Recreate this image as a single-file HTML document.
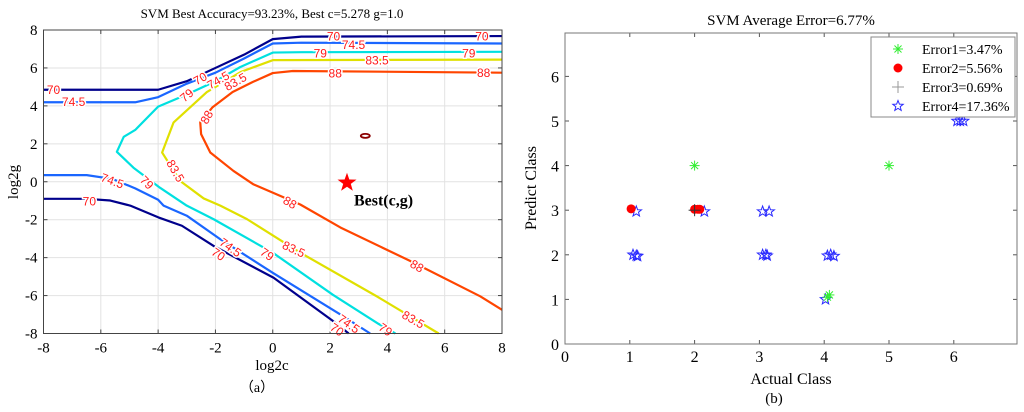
<!DOCTYPE html>
<html><head><meta charset="utf-8">
<style>
html,body{margin:0;padding:0;background:#fff;}
svg{display:block;font-family:"Liberation Serif",serif;}
</style></head>
<body>
<svg id="chart" width="1024" height="412" viewBox="0 0 1024 412" xmlns="http://www.w3.org/2000/svg">
<rect width="1024" height="412" fill="#fff"/>
<g id="left"></g>
<g id="right"></g>
</svg>
<script>
// ---------- Left chart data ----------
const levels = ["70","74.5","79","83.5","88"];
const levelColors = ["#00008c","#1a66ff","#00e0e0","#e0e000","#ff4500"];
const c70a = [[-8,4.85],[-4,4.85],[-3,5.3],[-2,6.0],[-1,6.7],[0,7.52],[1,7.65],[8,7.68]];
const c70b = [[-8,-0.9],[-6.5,-0.9],[-5.67,-0.99],[-4.97,-1.26],[-3.99,-1.88],[-3.17,-2.32],[-2.07,-3.38],[0.03,-5.06],[2.12,-7.36],[2.65,-8]];
const c745a = [[-8,4.19],[-4.8,4.19],[-4,4.46],[-3,5.17],[-2,5.75],[-1,6.5],[0,7.29],[1,7.33],[8,7.29]];
const c745b = [[-8,0.35],[-6.49,0.35],[-5.6,0.15],[-4.8,-0.35],[-4,-0.95],[-3.81,-1.26],[-3.0,-1.79],[-1.83,-3.03],[0,-4.8],[2.47,-7.1],[3.4,-8]];
const c79 = [[8,6.85],[1,6.83],[0,6.81],[-1.13,6.05],[-2,5.3],[-3,4.6],[-4,3.96],[-4.8,2.73],[-5.2,2.37],[-5.44,1.58],[-4.86,0.74],[-3.93,-0.32],[-3.0,-1.26],[-2.07,-1.97],[0,-3.74],[2.1,-5.96],[3.7,-7.5],[4.28,-8]];
const c835 = [[8,6.44],[0,6.41],[-1.1,5.8],[-2.3,4.73],[-3.46,3.13],[-3.86,1.54],[-3.23,0.04],[-2.41,-0.88],[-1.83,-1.26],[-0.9,-1.97],[0.96,-3.74],[3.64,-6.05],[4.8,-7.1],[5.79,-8]];
const c88 = [[8,5.75],[0.7,5.84],[0,5.73],[-0.7,5.26],[-1.4,4.73],[-2.1,3.93],[-2.53,3.13],[-2.5,2.51],[-2.18,1.54],[-1.37,0.57],[-0.67,-0.14],[0.15,-0.67],[0.96,-1.2],[2.36,-2.41],[4.8,-4.18],[7.24,-6.04],[8,-6.75]];
const contourSets = [[c70a,c70b],[c745a,c745b],[c79],[c835],[c88]];
const islandCenter = [3.23,2.42];
const bestPoint = [2.59,-0.05];
// labels: [text, c, g, angle]
const contourLabels = [
 ["70",2.12,7.65,0],["70",7.3,7.65,0],["74.5",2.82,7.2,0],["79",1.66,6.76,0],["79",6.84,6.76,0],
 ["83.5",3.64,6.4,0],["88",2.18,5.7,0],["88",7.36,5.73,0],["70",-7.65,4.85,0],["74.5",-6.95,4.2,0],
 ["70",-2.53,5.43,-30],["74.5",-1.9,5.35,-30],["83.5",-1.3,5.26,-30],["79",-3,4.55,-40],["88",-2.3,3.4,-60],
 ["83.5",-3.4,0.57,60],["79",-4.4,-0.05,45],["74.5",-5.6,0.04,20],["70",-6.4,-1.03,0],["88",0.6,-1.1,30],
 ["74.5",-1.48,-3.47,35],["70",-1.9,-3.83,35],["79",-0.2,-3.83,35],["83.5",0.73,-3.56,25],["88",5.03,-4.45,30],
 ["74.5",2.65,-7.5,35],["70",2.24,-7.8,35],["79",3.93,-7.8,35],["83.5",4.9,-7.27,30]
];
const leftTicks = [-8,-6,-4,-2,0,2,4,6,8];

// ---------- Right chart data ----------
const rightTicks = [0,1,2,3,4,5,6];
const err1 = [[2,4],[5,4],[4.05,1.05],[4.08,1.1]];
const err2 = [[1.02,3.03],[2.0,3.02],[2.05,3.02],[2.08,3.02]];
const err3 = [[2.0,3.0]];
const err4 = [[1.1,2.97],[2.15,2.97],[3.05,2.97],[3.15,2.97],[1.05,2],[1.1,1.98],[1.12,1.97],[3.05,2],[3.1,2],[3.12,1.98],[4.05,1.98],[4.1,2.0],[4.15,1.97],[4.02,1.0],[6.05,5.0],[6.1,5.0],[6.15,5.0]];
const legendLabels = ["Error1=3.47%","Error2=5.56%","Error3=0.69%","Error4=17.36%"];

const NS="http://www.w3.org/2000/svg";
function mk(tag,attrs,parent,text){const e=document.createElementNS(NS,tag);for(const k in attrs)e.setAttribute(k,attrs[k]);if(text!==undefined)e.textContent=text;parent.appendChild(e);return e;}

// ---------- Left chart ----------
const L=document.getElementById('left');


const LX0=43.5,LX1=502,LY0=30,LY1=333.5;
const lx=c=>LX0+(c+8)/16*(LX1-LX0);
const ly=g=>LY1-(g+8)/16*(LY1-LY0);
leftTicks.forEach(t=>{
  const gx=mk('line',{x1:lx(t),x2:lx(t),y1:LY0,y2:LY1,stroke:'#e2e2e2','stroke-width':1},L);
  
  
  const gy=mk('line',{x1:LX0,x2:LX1,y1:ly(t),y2:ly(t),stroke:'#e2e2e2','stroke-width':1},L);
  
  
  mk('line',{x1:lx(t),x2:lx(t),y1:LY1,y2:LY1-4,stroke:'#444'},L);
  mk('line',{x1:lx(t),x2:lx(t),y1:LY0,y2:LY0+4,stroke:'#444'},L);
  mk('line',{x1:LX0,x2:LX0+4,y1:ly(t),y2:ly(t),stroke:'#444'},L);
  mk('line',{x1:LX1,x2:LX1-4,y1:ly(t),y2:ly(t),stroke:'#444'},L);
  const xt=mk('text',{x:lx(t),y:LY1+19,'text-anchor':'middle','font-size':15},L,String(t));
  
  
  const yt=mk('text',{x:LX0-6,y:ly(t)+5,'text-anchor':'end','font-size':15},L,String(t));
  
  
});
contourSets.forEach((set,i)=>{
  set.forEach(pts=>{
    const p=mk('polyline',{points:pts.map(q=>lx(q[0])+','+ly(q[1])).join(' '),fill:'none',stroke:levelColors[i],'stroke-width':2.2,'stroke-linejoin':'round'},L);
    
    
  });
});
const isl=mk('ellipse',{cx:lx(islandCenter[0]),cy:ly(islandCenter[1]),rx:4.5,ry:2,fill:'none',stroke:'#8b0000','stroke-width':1.8},L);


contourLabels.forEach(l=>{
  const x=lx(l[1]),y=ly(l[2]);
  const t=mk('text',{x:x,y:y+4,'text-anchor':'middle','font-size':12,'font-family':'Liberation Sans, sans-serif',fill:'#ff1a1a',stroke:'#fff','stroke-width':3,'paint-order':'stroke',transform:'rotate('+l[3]+' '+x+' '+y+')'},L,l[0]);
  
  
});
(function(){
  const cx=lx(bestPoint[0]),cy=ly(bestPoint[1]),R=10,r=4;let pts=[];
  for(let k=0;k<10;k++){const a=-Math.PI/2+k*Math.PI/5,rr=k%2?r:R;pts.push((cx+rr*Math.cos(a)).toFixed(1)+','+(cy+rr*Math.sin(a)).toFixed(1));}
  const s=mk('polygon',{points:pts.join(' '),fill:'#ff0000'},L);
  
  
  const bt=mk('text',{x:cx+7,y:cy+23,'font-size':16,'font-weight':'bold'},L,'Best(c,g)');
  
  
})();
const lf=mk('rect',{x:LX0,y:LY0,width:LX1-LX0,height:LY1-LY0,fill:'none',stroke:'#444','stroke-width':1},L);


const lt=mk('text',{x:272,y:18,'text-anchor':'middle','font-size':13},L,'SVM Best Accuracy=93.23%, Best c=5.278  g=1.0');


const lxl=mk('text',{x:272,y:370,'text-anchor':'middle','font-size':15},L,'log2c');


const lyl=mk('text',{x:18,y:182,'text-anchor':'middle','font-size':15,transform:'rotate(-90 18 182)'},L,'log2g');


const la=mk('text',{x:257,y:392,'text-anchor':'middle','font-size':14},L,'（a）');



// ---------- Right chart ----------
const R=document.getElementById('right');


const RX0=565,RX1=1017,RY0=33,RY1=344;
const ux=64.8,uy=44.6;
const rx=v=>RX0+v*ux;
const ry=v=>RY1-v*uy;
rightTicks.forEach(t=>{
  mk('line',{x1:rx(t),x2:rx(t),y1:RY1,y2:RY1-4,stroke:'#555'},R);
  mk('line',{x1:rx(t),x2:rx(t),y1:RY0,y2:RY0+4,stroke:'#555'},R);
  mk('line',{x1:RX0,x2:RX0+4,y1:ry(t),y2:ry(t),stroke:'#555'},R);
  mk('line',{x1:RX1,x2:RX1-4,y1:ry(t),y2:ry(t),stroke:'#555'},R);
  const xt=mk('text',{x:rx(t),y:RY1+18,'text-anchor':'middle','font-size':16},R,String(t));
  
  
  const yt=mk('text',{x:RX0-6,y:ry(t)+6,'text-anchor':'end','font-size':16},R,String(t));
  
  
});
function asterisk(x,y,g,col){[0,45,90,135].forEach(a=>{const r=a*Math.PI/180,d=5;mk('line',{x1:x-d*Math.cos(r),y1:y-d*Math.sin(r),x2:x+d*Math.cos(r),y2:y+d*Math.sin(r),stroke:col,'stroke-width':1},g);});}
function star(x,y,g,col){const R5=5.5,r5=2.3;let pts=[];for(let k=0;k<10;k++){const a=-Math.PI/2+k*Math.PI/5,rr=k%2?r5:R5;pts.push((x+rr*Math.cos(a)).toFixed(1)+','+(y+rr*Math.sin(a)).toFixed(1));}mk('polygon',{points:pts.join(' '),fill:'none',stroke:col,'stroke-width':1},g);}
function plus(x,y,g,col){mk('line',{x1:x-6,x2:x+6,y1:y,y2:y,stroke:col,'stroke-width':1},g);mk('line',{x1:x,x2:x,y1:y-6,y2:y+6,stroke:col,'stroke-width':1},g);}
function dot(x,y,g,col){mk('circle',{cx:x,cy:y,r:4.5,fill:col},g);}
err4.forEach(p=>{const g=mk('g',{},R);star(rx(p[0]),ry(p[1]),g,'#2a2aff');});
err2.forEach(p=>{const g=mk('g',{},R);dot(rx(p[0]),ry(p[1]),g,'#ff0000');});
err3.forEach(p=>{const g=mk('g',{},R);plus(rx(p[0]),ry(p[1]),g,'#333');});
err1.forEach(p=>{const g=mk('g',{},R);asterisk(rx(p[0]),ry(p[1]),g,'#33ee33');});
const rf=mk('rect',{x:RX0,y:RY0,width:RX1-RX0,height:RY1-RY0,fill:'none',stroke:'#777','stroke-width':1},R);


const lg=mk('g',{},R);


mk('rect',{x:871,y:37,width:144,height:80,fill:'#fff',stroke:'#888'},lg);
const markerFns=[(x,y,g)=>asterisk(x,y,g,'#33ee33'),(x,y,g)=>dot(x,y,g,'#ff0000'),(x,y,g)=>plus(x,y,g,'#999'),(x,y,g)=>star(x,y,g,'#2a2aff')];
legendLabels.forEach((txt,i)=>{
  const y=49+i*19;
  const e=mk('g',{},lg);
  
  
  markerFns[i](898,y,e);
  mk('text',{x:922,y:y+5,'font-size':14},e,txt);
});
const rt=mk('text',{x:791,y:25,'text-anchor':'middle','font-size':15},R,'SVM  Average Error=6.77%');


const rxl=mk('text',{x:791,y:384,'text-anchor':'middle','font-size':16},R,'Actual Class');


const ryl=mk('text',{x:536,y:188,'text-anchor':'middle','font-size':16,transform:'rotate(-90 536 188)'},R,'Predict Class');


const rb=mk('text',{x:774,y:403,'text-anchor':'middle','font-size':15},R,'(b)');


</script>
</body></html>
